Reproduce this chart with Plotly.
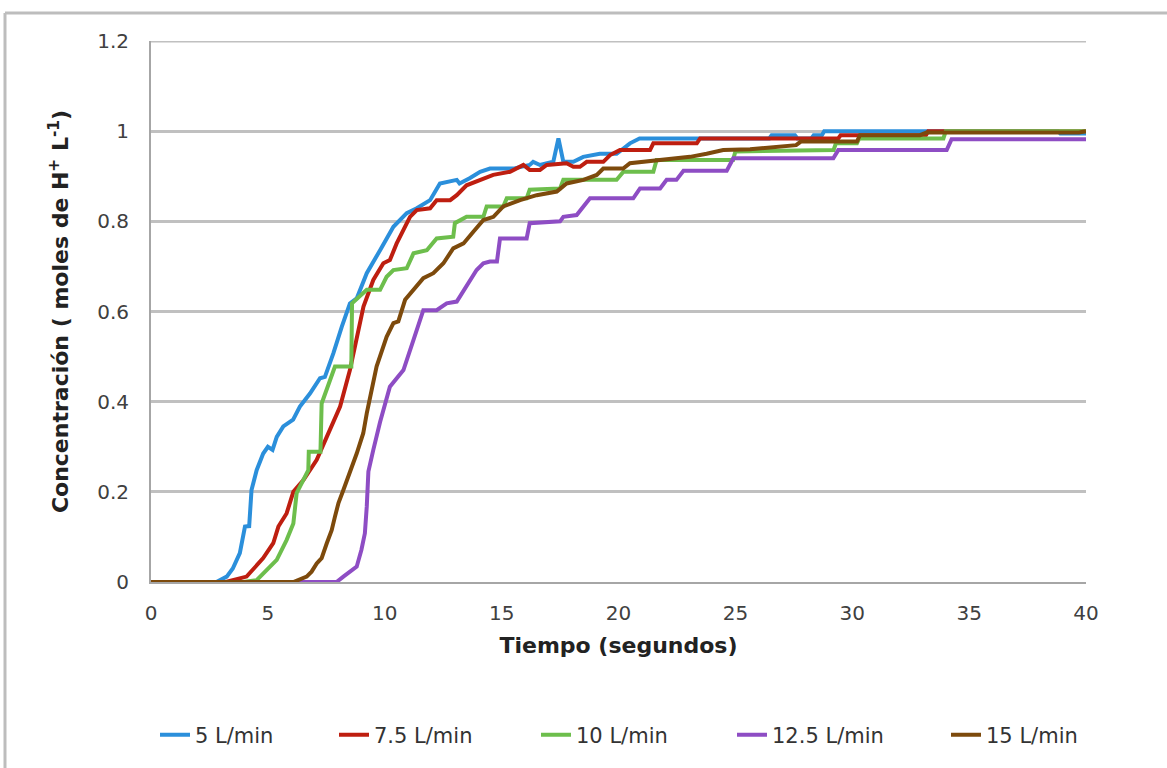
import plotly.graph_objects as go

# ---- data ----
series_names = ["5 L/min", "7.5 L/min", "10 L/min", "12.5 L/min", "15 L/min"]

t_5 = [0, 2.8, 3.24, 3.5, 3.8, 4.02, 4.2, 4.3, 4.52, 4.8, 5.0, 5.2, 5.38, 5.66, 6.08, 6.37, 6.8,
       7.23, 7.44, 7.8, 8.16, 8.51, 8.8, 9.23, 9.8, 10.37, 10.94, 11.37, 11.94, 12.36, 13.08, 13.2,
       13.65, 14.08, 14.5, 15.5, 16.2, 16.35, 16.64, 17.21, 17.43, 17.64, 18.07, 18.49, 19.2, 19.92,
       20.49, 20.9, 26.45, 26.55, 27.55, 27.65, 28.25, 28.35, 28.7, 28.8, 38.8, 38.9, 40]
c_5 = [0, 0, 0.012, 0.03, 0.064, 0.123, 0.124, 0.204, 0.248, 0.285, 0.30, 0.293, 0.322, 0.345, 0.36,
       0.389, 0.418, 0.452, 0.455, 0.507, 0.566, 0.618, 0.629, 0.685, 0.736, 0.788, 0.818, 0.829,
       0.847, 0.884, 0.892, 0.884, 0.896, 0.91, 0.917, 0.917, 0.925, 0.932, 0.925, 0.932, 0.984,
       0.932, 0.932, 0.943, 0.95, 0.95, 0.973, 0.984, 0.984, 0.991, 0.991, 0.984, 0.984, 0.991,
       0.991, 1.0, 1.0, 0.995, 0.995]

t_75 = [0, 3.2, 4.09, 4.38, 4.8, 5.23, 5.45, 5.8, 6.09, 6.52, 7.09, 7.52, 8.09, 8.51, 8.8, 9.09,
        9.51, 9.94, 10.22, 10.51, 11.08, 11.37, 11.94, 12.22, 12.8, 13.08, 13.5, 14.07, 14.64,
        15.36, 15.93, 16.2, 16.64, 16.93, 17.78, 18.07, 18.35, 18.64, 19.35, 19.64, 20.06, 21.35,
        21.49, 23.35, 23.49, 29.4, 29.5, 33.15, 33.25, 40]
c_75 = [0, 0, 0.012, 0.03, 0.053, 0.086, 0.123, 0.152, 0.2, 0.226, 0.271, 0.322, 0.389, 0.47,
        0.544, 0.611, 0.67, 0.707, 0.714, 0.751, 0.81, 0.825, 0.829, 0.847, 0.847, 0.858, 0.88,
        0.892, 0.903, 0.91, 0.925, 0.914, 0.914, 0.925, 0.929, 0.921, 0.921, 0.932, 0.932, 0.947,
        0.958, 0.958, 0.973, 0.973, 0.984, 0.984, 0.991, 0.991, 1.0, 1.0]

t_10 = [0, 3.95, 4.52, 4.95, 5.38, 5.8, 6.09, 6.23, 6.52, 6.73, 6.75, 7.25, 7.3, 7.87, 8.57, 8.6,
        9.23, 9.8, 10.08, 10.37, 10.94, 11.23, 11.8, 12.22, 12.93, 13.0, 13.5, 14.22, 14.36, 15.07,
        15.22, 16.07, 16.2, 17.5, 17.64, 19.92, 20.21, 21.49, 21.63, 24.9, 25.0, 29.2, 29.3, 30.2,
        30.3, 33.9, 34.0, 40]
c_10 = [0, 0, 0.004, 0.027, 0.049, 0.093, 0.13, 0.197, 0.226, 0.248, 0.289, 0.289, 0.396, 0.478,
        0.478, 0.618, 0.648, 0.648, 0.677, 0.692, 0.696, 0.729, 0.736, 0.762, 0.766, 0.796, 0.81,
        0.81, 0.833, 0.833, 0.851, 0.851, 0.87, 0.873, 0.892, 0.892, 0.91, 0.91, 0.936, 0.936,
        0.955, 0.958, 0.973, 0.973, 0.984, 0.984, 1.0, 1.0]

t_125 = [0, 7.94, 8.23, 8.8, 9.0, 9.15, 9.23, 9.3, 9.51, 9.8, 10.22, 10.51, 10.8, 11.23, 11.65,
         12.22, 12.65, 13.08, 13.5, 13.93, 14.22, 14.5, 14.8, 14.93, 16.07, 16.2, 17.5, 17.64,
         18.21, 18.49, 18.78, 20.63, 20.92, 21.78, 22.06, 22.48, 22.78, 24.63, 24.91, 29.19, 29.4,
         34.04, 34.25, 40]
c_125 = [0, 0, 0.012, 0.034, 0.071, 0.108, 0.167, 0.245, 0.293, 0.355, 0.433, 0.452, 0.47, 0.537,
         0.603, 0.603, 0.618, 0.622, 0.655, 0.692, 0.707, 0.711, 0.711, 0.762, 0.762, 0.796, 0.8,
         0.81, 0.814, 0.833, 0.851, 0.851, 0.873, 0.873, 0.892, 0.892, 0.912, 0.912, 0.94, 0.94,
         0.958, 0.958, 0.982, 0.982]

t_15 = [0, 6.09, 6.66, 6.87, 7.09, 7.3, 7.52, 7.73, 7.87, 8.02, 8.23, 8.51, 8.8, 9.08, 9.23, 9.65,
        10.08, 10.37, 10.58, 10.87, 11.23, 11.65, 12.08, 12.51, 12.93, 13.37, 13.79, 14.22, 14.65,
        15.07, 15.79, 16.5, 17.36, 17.78, 18.5, 19.07, 19.35, 20.2, 20.49, 21.06, 21.63, 22.48,
        23.06, 23.77, 24.48, 25.63, 27.05, 27.6, 27.8, 30.2, 30.33, 32.9, 33.18, 39.7, 40]
c_15 = [0, 0, 0.012, 0.023, 0.041, 0.053, 0.086, 0.115, 0.145, 0.175, 0.204, 0.241, 0.285, 0.33,
        0.374, 0.478, 0.544, 0.574, 0.578, 0.626, 0.648, 0.674, 0.685, 0.707, 0.74, 0.751, 0.777,
        0.803, 0.81, 0.833, 0.847, 0.858, 0.866, 0.884, 0.892, 0.903, 0.917, 0.917, 0.929, 0.932,
        0.936, 0.94, 0.943, 0.95, 0.958, 0.96, 0.966, 0.969, 0.977, 0.977, 0.991, 0.991, 0.997,
        0.997, 1.0]

x_ticks = [0, 5, 10, 15, 20, 25, 30, 35, 40]
y_ticks = [0, 0.2, 0.4, 0.6, 0.8, 1.0, 1.2]
y_tick_text = ["0", "0.2", "0.4", "0.6", "0.8", "1", "1.2"]

colors = ["#2B8FDB", "#BE1E10", "#6DBE4C", "#8E4DC4", "#7D4A0C"]
legend_px = [160, 339, 541, 737, 951]   # left edge (pixels) of each legend entry

xs = [t_5, t_75, t_10, t_125, t_15]
ys = [c_5, c_75, c_10, c_125, c_15]

FONT = "DejaVu Sans"

W, H = 1167, 768
L, R, T, B = 151, 81, 41, 186
pw, ph = W - L - R, H - T - B


def px(xp):
    return (xp - L) / pw


def py(yp):
    return (H - B - yp) / ph


fig = go.Figure()
legend_layouts = {}
for i, (name, x, y, col) in enumerate(zip(series_names, xs, ys, colors)):
    key = "legend" if i == 0 else f"legend{i + 1}"
    fig.add_trace(go.Scatter(x=x, y=y, mode="lines", name=name, legend=key,
                             line=dict(color=col, width=4)))
    legend_layouts[key] = dict(
        orientation="h", x=px(legend_px[i] - 5), xanchor="left", y=py(735), yanchor="middle",
        font=dict(family=FONT, size=21, color="#333333"), bgcolor="rgba(0,0,0,0)",
        itemwidth=30)

fig.update_layout(
    width=W, height=H,
    margin=dict(l=L, r=R, t=T, b=B, autoexpand=False),
    paper_bgcolor="white", plot_bgcolor="white",
    font=dict(family=FONT, size=20, color="#333333"),
    showlegend=True,
    xaxis=dict(range=[0, 40], tickvals=x_ticks, showgrid=False, zeroline=False,
               showline=True, linecolor="#A6A6A6", linewidth=2,
               ticks="", ticklabelstandoff=12,
               tickfont=dict(family=FONT, size=20, color="#404040"),
               title=dict(text="<b>Tiempo (segundos)</b>", standoff=14,
                          font=dict(family=FONT, size=22, color="#222222"))),
    yaxis=dict(range=[0, 1.2], tickvals=y_ticks, ticktext=y_tick_text, showgrid=True,
               gridcolor="#C0C0C0", gridwidth=3, zeroline=False,
               showline=True, linecolor="#A6A6A6", linewidth=2,
               ticks="", ticklabelstandoff=16,
               tickfont=dict(family=FONT, size=20, color="#404040"),
               title=dict(text="<b>Concentración ( moles de H<sup>+</sup> L<sup>-1</sup>)</b>",
                          standoff=22, font=dict(family=FONT, size=22, color="#222222"))),
    shapes=[
        dict(type="line", xref="paper", yref="y", x0=0, x1=1, y0=1.2, y1=1.2,
             line=dict(color="#C0C0C0", width=3), layer="below"),
        dict(type="line", xref="paper", yref="paper", x0=px(5), x1=px(1175), y0=py(13), y1=py(13),
             line=dict(color="#BDBDBD", width=3), layer="above"),
        dict(type="line", xref="paper", yref="paper", x0=px(5), x1=px(5), y0=py(13), y1=py(775),
             line=dict(color="#BDBDBD", width=3), layer="above"),
    ],
    **legend_layouts,
)

fig.write_html("out.html")
